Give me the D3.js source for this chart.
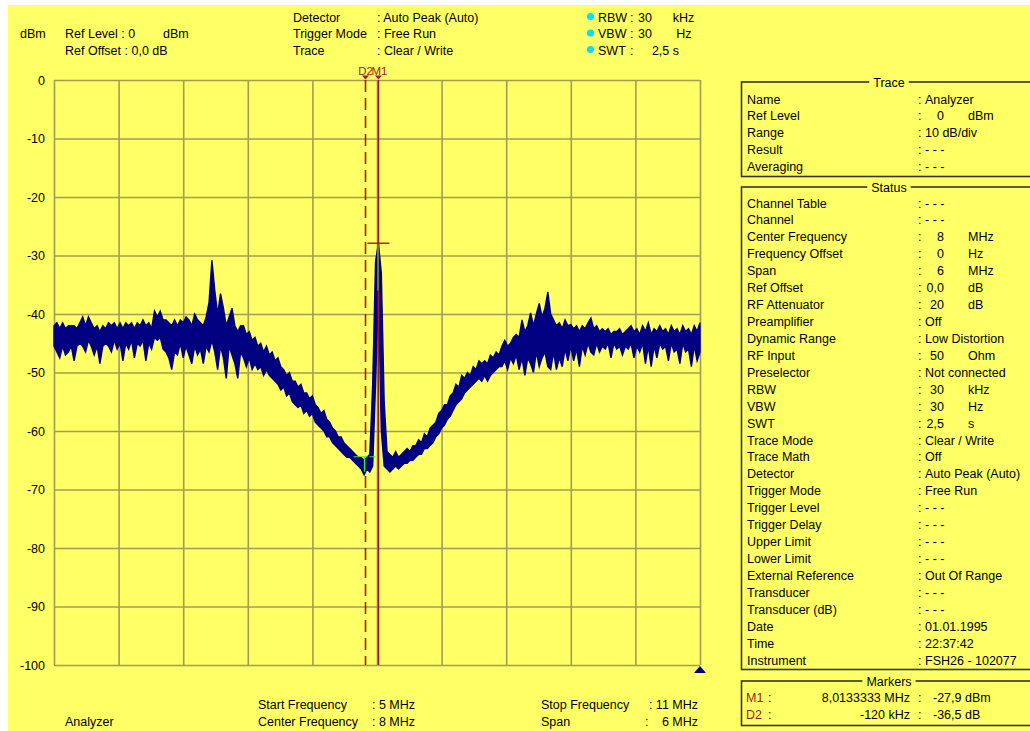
<!DOCTYPE html>
<html>
<head>
<meta charset="utf-8">
<script src="https://cdn.jsdelivr.net/npm/d3@7"></script>
<style>
  body { margin: 0; background: #ffffff; }
  svg text { font-family: "Liberation Sans", Arial, sans-serif; font-size: 12.5px; fill: #000; white-space: pre; }
</style>
</head>
<body>
<svg id="chart" width="1030" height="731"></svg>
<script>
// Sweep settings (MHz) and level ticks (dBm)
const startFreq = 5;
const stopFreq = 11;
const freqTicks = [5, 5.6, 6.2, 6.8, 7.4, 8, 8.6, 9.2, 9.8, 10.4, 11];
const levelTicks = [0, -10, -20, -30, -40, -50, -60, -70, -80, -90, -100];

// Auto Peak trace: highest and lowest level (dBm) seen in each sweep point,
// points evenly spaced from start to stop frequency
const traceMaxLevels = [
  -42, -41.5, -42.5, -41.5, -42.5, -42, -42, -42, -42.5, -41.5, -40.5, -42, -40.5, -41.5, -42.5, -42, -43, -42, -42.5, -41.5, -42, -41.5, -42.5,
  -41.5, -42.5, -41.5, -42, -41.5, -42.5, -41.5, -42, -41, -42, -41.5, -42.5, -39.5, -40.5, -39.5, -41, -41, -41.5, -42, -41, -42, -41, -41.5,
  -40.5, -41, -42, -40, -41, -41.5, -42, -40.5, -38, -30.8, -36, -40, -36.5, -39, -42, -40.5, -39, -42, -43, -42, -42, -43.5, -43, -44.5, -44,
  -45.5, -45, -46.5, -45.5, -47, -46.5, -48, -47.5, -49, -49.5, -50.5, -50, -51.5, -51.5, -52.5, -52, -53.5, -53.5, -54.5, -54,
  -55.5, -56, -57, -56.5, -58, -58.5, -59.5, -60, -61, -61, -62, -62.5, -63, -63.5, -64, -64.5, -64.5, -65, -64.5, -64,
  -52, -31, -27.9, -33, -55,
  -63.5, -64, -64.5, -63.5, -64.5, -64, -63.5, -63, -63.5, -62.5, -62.5, -61.5, -62, -60.5, -61,
  -59.5, -59, -58.5, -57, -56.5, -55.5, -55.5, -54, -53.5, -52, -52.5, -50.5, -51, -50, -50.5, -49, -49.5, -48, -48.5, -48,
  -48.5, -47, -47.5, -46.5, -47, -45.5, -44.5, -45.5, -45, -44, -43.5, -44, -41, -43, -42,
  -39.8, -42, -40, -38.2, -40.5, -39, -36.2, -40, -41, -42, -41.5, -42.5, -41, -42, -41.8, -42.5, -42, -43, -42, -42.5, -41.5, -40.7, -42.5, -42, -43,
  -42.5, -43, -42.5, -43.5, -43, -43, -42.5, -43.5, -43, -42.5, -42, -43, -42.5, -43.5, -42, -43, -41.5, -43.5,
  -42.5, -43, -42, -43, -42.5, -43.5, -42, -43, -42.5, -43.5, -42, -43, -42.5, -43.5, -42, -43, -41.5
];
const traceMinLevels = [
  -45.5, -46.5, -47.5, -45.5, -47, -46.5, -45.5, -48, -45.5, -45, -45.5, -46.5, -44.5, -45.5, -47, -45.5, -48.5, -45.5, -45, -45.5, -46.5, -44.5, -46,
  -45, -48, -45, -46, -44.5, -47.5, -45, -45.5, -44.5, -48, -45, -46, -44, -44.5, -44, -46, -46.5, -47.5, -49.5, -46.5, -47, -45, -47.5,
  -45.5, -47, -48.5, -45.5, -47, -46, -48.5, -45.5, -46.5, -44.5, -46.5, -49.5, -45.5, -47.5, -51, -45.5, -47, -48.5, -51, -46.5, -47.5, -49, -47.5, -49.5, -48.5,
  -49.5, -49, -50.5, -49.5, -50.5, -51, -51.5, -52, -53, -52.5, -54, -53.5, -55, -55.5, -56, -55.5, -57, -56.5, -57.5, -57,
  -58.5, -59, -59.5, -60, -61, -61, -62, -62.5, -63, -63.5, -64, -64.5, -64.5, -65, -65.5, -66, -66.5, -67.5, -66.5, -67,
  -66, -52, -36, -60, -66,
  -66.5, -67, -66.5, -66, -66.5, -66, -65.5, -65.5, -65, -65, -64.5, -64, -64, -63, -63,
  -62.5, -62, -61, -60.5, -59.5, -59, -58, -57.5, -56.5, -55.5, -55, -54.5, -53.5, -53, -52.5, -52, -51.5, -51, -51.5, -50.5,
  -51.5, -50.5, -50, -49.5, -49, -49, -48, -49.5, -47.5, -48.5, -47, -49.5, -47.5, -50.5, -47.5,
  -48.5, -50, -46.5, -49, -47.5, -46.5, -49, -49.5, -46.5, -49.5, -47.5, -49, -46, -48, -45.5, -48, -46, -49, -45.5, -47, -45, -46.5, -47, -45, -46.5,
  -45.5, -46, -45, -47.5, -45, -46, -45.5, -47, -45.5, -46, -45, -47.5, -45.5, -46.5, -45, -48.5, -45.5, -49,
  -45.5, -47.5, -45, -46, -45.5, -48, -45, -46.5, -46, -48.5, -45, -46.5, -46, -49, -45.5, -48, -46.5
];

// Markers: M1 absolute, D2 relative to M1
const markerNames = ["M1", "D2"];
const markerFreqs = [8.0133333, 7.8933333];
const markerLevels = [-27.9, -64.4];
const markerReadouts = [
  ["8,0133333 MHz", "-27,9 dBm"],
  ["-120 kHz", "-36,5 dB"]
];

// Header and footer text
const headerLeft = ["Ref Level : 0        dBm", "Ref Offset : 0,0 dB"];
const headerMidLabels = ["Detector", "Trigger Mode", "Trace"];
const headerMidValues = [": Auto Peak (Auto)", ": Free Run", ": Clear / Write"];
const headerRightNames = ["RBW", "VBW", "SWT"];
const headerRightValues = ["30      kHz", "30       Hz", "    2,5 s"];

// Side panel rows: [label, value, unit]
const traceRows = [
  ["Name", "Analyzer", ""],
  ["Ref Level", "0", "dBm"],
  ["Range", "10 dB/div", ""],
  ["Result", "- - -", ""],
  ["Averaging", "- - -", ""]
];
const statusRows = [
  ["Channel Table", "- - -", ""],
  ["Channel", "- - -", ""],
  ["Center Frequency", "8", "MHz"],
  ["Frequency Offset", "0", "Hz"],
  ["Span", "6", "MHz"],
  ["Ref Offset", "0,0", "dB"],
  ["RF Attenuator", "20", "dB"],
  ["Preamplifier", "Off", ""],
  ["Dynamic Range", "Low Distortion", ""],
  ["RF Input", "50", "Ohm"],
  ["Preselector", "Not connected", ""],
  ["RBW", "30", "kHz"],
  ["VBW", "30", "Hz"],
  ["SWT", "2,5", "s"],
  ["Trace Mode", "Clear / Write", ""],
  ["Trace Math", "Off", ""],
  ["Detector", "Auto Peak (Auto)", ""],
  ["Trigger Mode", "Free Run", ""],
  ["Trigger Level", "- - -", ""],
  ["Trigger Delay", "- - -", ""],
  ["Upper Limit", "- - -", ""],
  ["Lower Limit", "- - -", ""],
  ["External Reference", "Out Of Range", ""],
  ["Transducer", "- - -", ""],
  ["Transducer (dB)", "- - -", ""],
  ["Date", "01.01.1995", ""],
  ["Time", "22:37:42", ""],
  ["Instrument", "FSH26 - 102077", ""]
];

const colors = {
  bg: "#ffff66", grid: "#a39c55", trace: "#000080", marker: "#a01c1c",
  highlight: "#33ee33", dot: "#00e0ff", frame: "#333333"
};

const svg = d3.select("#chart");
svg.append("rect").attr("x", 8).attr("y", 5).attr("width", 1030 - 8).attr("height", 731 - 5).attr("fill", colors.bg);

const plot = { left: 54, right: 700, top: 80, bottom: 665 };
const x = d3.scaleLinear().domain([startFreq, stopFreq]).range([plot.left, plot.right]);
const y = d3.scaleLinear().domain([-100, 0]).range([plot.bottom, plot.top]);

// Grid: vertical and horizontal lines from axes with full-length ticks
const gx = svg.append("g").attr("transform", `translate(0,${plot.bottom})`)
  .call(d3.axisBottom(x).tickValues(freqTicks).tickSize(-(plot.bottom - plot.top)).tickFormat(""));
const gy = svg.append("g").attr("transform", `translate(${plot.left},0)`)
  .call(d3.axisLeft(y).tickValues(levelTicks).tickSize(-(plot.right - plot.left)).tickFormat(""));
[gx, gy].forEach(g => {
  g.select(".domain").remove();
  g.selectAll(".tick line").attr("stroke", colors.grid).attr("stroke-width", 1.6);
});

// Level labels (plain hyphen minus, as the instrument prints them)
const gl = svg.append("g").attr("transform", `translate(${plot.left - 6},0)`)
  .call(d3.axisLeft(y).tickValues(levelTicks).tickSize(0).tickFormat(d => String(d)));
gl.select(".domain").remove();
gl.selectAll(".tick text").attr("font-family", "Liberation Sans, Arial, sans-serif").attr("font-size", 12.5).attr("fill", "#000");

// Trace: band between the min and max level of every sweep point
const step = (stopFreq - startFreq) / (traceMaxLevels.length - 1);
const traceArea = d3.area()
  .x((d, i) => x(startFreq + i * step))
  .y0((d, i) => y(traceMinLevels[i]))
  .y1(d => y(d));
svg.append("path").datum(traceMaxLevels).attr("d", traceArea)
  .attr("fill", colors.trace).attr("stroke", colors.trace).attr("stroke-width", 1.4).attr("stroke-linejoin", "miter");

// Marker lines
const m1x = x(markerFreqs[0]), d2x = x(markerFreqs[1]);
svg.append("line").attr("x1", m1x).attr("x2", m1x).attr("y1", plot.top).attr("y2", plot.bottom)
  .attr("stroke", colors.marker).attr("stroke-width", 1.6);
svg.append("line").attr("x1", d2x).attr("x2", d2x).attr("y1", plot.top).attr("y2", plot.bottom)
  .attr("stroke", colors.marker).attr("stroke-width", 1.6).attr("stroke-dasharray", "12,6");

// Marker crosshairs and highlights
const m1y = y(markerLevels[0]), d2y = y(markerLevels[1]);
svg.append("line").attr("x1", m1x - 11).attr("x2", m1x + 11).attr("y1", m1y).attr("y2", m1y)
  .attr("stroke", colors.marker).attr("stroke-width", 1.4);
svg.append("line").attr("x1", m1x - 0.5).attr("x2", m1x - 0.5).attr("y1", m1y + 1).attr("y2", y(-36))
  .attr("stroke", colors.highlight).attr("stroke-width", 1);
svg.append("line").attr("x1", d2x - 12).attr("x2", d2x + 11).attr("y1", d2y).attr("y2", d2y)
  .attr("stroke", colors.highlight).attr("stroke-width", 1.2).attr("stroke-dasharray", "6,2");
svg.append("line").attr("x1", d2x - 1).attr("x2", d2x - 1).attr("y1", d2y).attr("y2", d2y + 15)
  .attr("stroke", colors.highlight).attr("stroke-width", 1.2);

// Marker flags at the top
markerNames.forEach((name, i) => {
  const mx = x(markerFreqs[i]);
  svg.append("path").attr("d", `M${mx - 3.5},75.5 L${mx + 3.5},75.5 L${mx},79.5 Z`).attr("fill", colors.marker);
  svg.append("text").attr("x", mx + (i === 0 ? 1 : 0)).attr("y", 74.5).attr("text-anchor", "middle")
    .style("font-size", "11.5px").style("fill", colors.marker).text(name);
});

// Bottom-right sweep indicator
svg.append("path").attr("d", `M${plot.right},${plot.bottom + 1} L${plot.right + 6},${plot.bottom + 8} L${plot.right - 6},${plot.bottom + 8} Z`)
  .attr("fill", colors.trace);

// Header
const hdr = svg.append("g");
hdr.append("text").attr("x", 20).attr("y", 38).text("dBm");
headerLeft.forEach((t, i) => hdr.append("text").attr("x", 65).attr("y", 38 + i * 16.5).text(t));
headerMidLabels.forEach((t, i) => hdr.append("text").attr("x", 293).attr("y", 21.5 + i * 16.5).text(t));
headerMidValues.forEach((t, i) => hdr.append("text").attr("x", 377).attr("y", 21.5 + i * 16.5).text(t));
headerRightNames.forEach((t, i) => {
  const ty = 21.5 + i * 16.5;
  hdr.append("circle").attr("cx", 590.5).attr("cy", ty - 5).attr("r", 3.6).attr("fill", colors.dot);
  hdr.append("text").attr("x", 598).attr("y", ty).text(t);
  hdr.append("text").attr("x", 630).attr("y", ty).text(":");
  hdr.append("text").attr("x", 638).attr("y", ty).text(headerRightValues[i]);
});

// Footer
const ftr = svg.append("g");
ftr.append("text").attr("x", 65).attr("y", 725.5).text("Analyzer");
ftr.append("text").attr("x", 258).attr("y", 709).text("Start Frequency");
ftr.append("text").attr("x", 372).attr("y", 709).text(`: ${startFreq} MHz`);
ftr.append("text").attr("x", 258).attr("y", 725.5).text("Center Frequency");
ftr.append("text").attr("x", 372).attr("y", 725.5).text(`: ${(startFreq + stopFreq) / 2} MHz`);
ftr.append("text").attr("x", 541).attr("y", 709).text("Stop Frequency");
ftr.append("text").attr("x", 698).attr("y", 709).attr("text-anchor", "end").text(`: ${stopFreq} MHz`);
ftr.append("text").attr("x", 541).attr("y", 725.5).text("Span");
ftr.append("text").attr("x", 645).attr("y", 725.5).text(":");
ftr.append("text").attr("x", 698).attr("y", 725.5).attr("text-anchor", "end").text(`${stopFreq - startFreq} MHz`);

// Side panel boxes with a title set into the top edge
function box(title, top, bottom) {
  const g = svg.append("g");
  g.append("rect").attr("x", 741.5).attr("y", top).attr("width", 300).attr("height", bottom - top)
    .attr("fill", "none").attr("stroke", colors.frame).attr("stroke-width", 1.6);
  const gap = g.append("rect").attr("y", top - 3).attr("height", 6).attr("fill", colors.bg);
  const t = g.append("text").attr("x", 889).attr("y", top + 4.5).attr("text-anchor", "middle").text(title);
  const w = t.node().getComputedTextLength();
  gap.attr("x", 889 - w / 2 - 4).attr("width", w + 8);
  return g;
}
function rows(g, data, firstY) {
  data.forEach((r, i) => {
    const ty = firstY + i * 16.93 + 4.5;
    g.append("text").attr("x", 747).attr("y", ty).text(r[0]);
    g.append("text").attr("x", 918).attr("y", ty).text(":");
    if (r[2]) {
      g.append("text").attr("x", 944).attr("y", ty).attr("text-anchor", "end").text(r[1]);
      g.append("text").attr("x", 968).attr("y", ty).text(r[2]);
    } else {
      g.append("text").attr("x", 925).attr("y", ty).text(r[1]);
    }
  });
}
const traceBox = box("Trace", 82, 176.5);
rows(traceBox, traceRows, 99);
const statusBox = box("Status", 187, 669.5);
rows(statusBox, statusRows, 203);
const markerBox = box("Markers", 681, 725.5);
markerNames.forEach((name, i) => {
  const ty = 697.5 + i * 17 + 4.5;
  markerBox.append("text").attr("x", 746).attr("y", ty).style("fill", colors.marker).text(name);
  markerBox.append("text").attr("x", 768).attr("y", ty).text(":");
  markerBox.append("text").attr("x", 910).attr("y", ty).attr("text-anchor", "end").text(markerReadouts[i][0]);
  markerBox.append("text").attr("x", 918).attr("y", ty).text(":");
  markerBox.append("text").attr("x", 933).attr("y", ty).text(markerReadouts[i][1]);
});
</script>
</body>
</html>
